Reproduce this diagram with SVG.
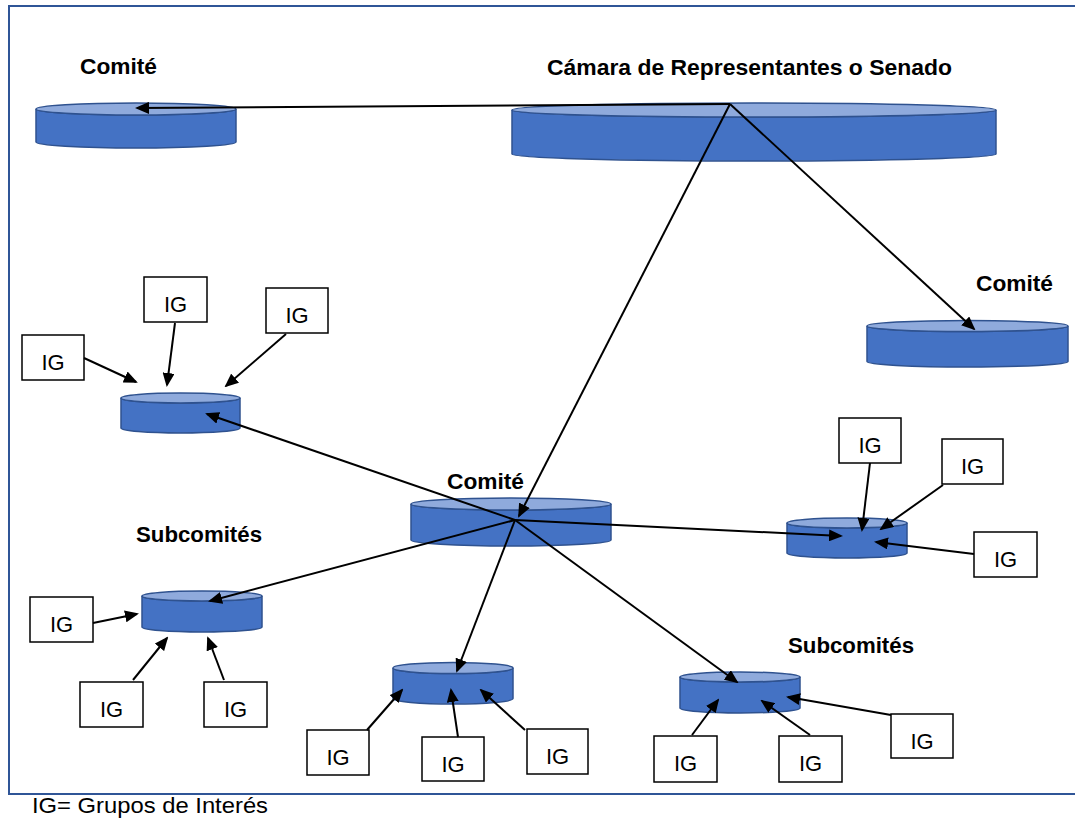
<svg xmlns="http://www.w3.org/2000/svg" width="1075" height="818" viewBox="0 0 1075 818">
<style>
.body{fill:#4472C4;stroke:#2F528F;stroke-width:1.5}
.top{fill:#8FAADC;stroke:#2F528F;stroke-width:1.5}
.ig{fill:#FFFFFF;stroke:#000000;stroke-width:1.5}
.igt{font-family:"Liberation Sans",Arial,sans-serif;font-size:22px;fill:#000;text-anchor:middle}
.lbl{font-family:"Liberation Sans",Arial,sans-serif;font-size:22.5px;font-weight:bold;fill:#000}
.note{font-family:"Liberation Sans",Arial,sans-serif;font-size:22px;fill:#000}
.c line{stroke:#000;stroke-width:2;marker-end:url(#ah)}
</style>
<defs>
<marker id="ah" markerWidth="14" markerHeight="12" refX="12" refY="6" orient="auto" markerUnits="userSpaceOnUse">
<path d="M0,0 L14,6 L0,12 Z" fill="#000"/>
</marker>
</defs>
<rect x="9" y="6" width="1080" height="788" fill="none" stroke="#2F5597" stroke-width="2"/>

<g id="camara">
<path class="body" d="M512,110 V154 A242,7 0 0 0 996,154 V110 A242,7 0 0 1 512,110 Z"/>
<ellipse class="top" cx="754" cy="110" rx="242" ry="7"/>
<text class="lbl" x="547" y="75" textLength="405" lengthAdjust="spacingAndGlyphs">Cámara de Representantes o Senado</text>
</g>
<g id="comite-izq">
<path class="body" d="M36,109 V142 A100,6 0 0 0 236,142 V109 A100,6 0 0 1 36,109 Z"/>
<ellipse class="top" cx="136" cy="109" rx="100" ry="6"/>
<text class="lbl" x="80" y="74" textLength="77" lengthAdjust="spacingAndGlyphs">Comité</text>
</g>
<g id="comite-der">
<path class="body" d="M867,326 V361.5 A100.5,5.5 0 0 0 1068,361.5 V326 A100.5,5.5 0 0 1 867,326 Z"/>
<ellipse class="top" cx="967.5" cy="326" rx="100.5" ry="5.5"/>
<text class="lbl" x="976" y="291" textLength="77" lengthAdjust="spacingAndGlyphs">Comité</text>
</g>
<g id="comite-centro">
<path class="body" d="M411,504 V540 A100,6 0 0 0 611,540 V504 A100,6 0 0 1 411,504 Z"/>
<ellipse class="top" cx="511" cy="504" rx="100" ry="6"/>
<text class="lbl" x="447" y="489" textLength="77" lengthAdjust="spacingAndGlyphs">Comité</text>
</g>
<g id="sub-1">
<path class="body" d="M121,398 V428 A59.5,5 0 0 0 240,428 V398 A59.5,5 0 0 1 121,398 Z"/>
<ellipse class="top" cx="180.5" cy="398" rx="59.5" ry="5"/>
</g>
<g id="sub-2">
<path class="body" d="M787,523 V553 A60,5 0 0 0 907,553 V523 A60,5 0 0 1 787,523 Z"/>
<ellipse class="top" cx="847" cy="523" rx="60" ry="5"/>
</g>
<g id="sub-3">
<path class="body" d="M142,596 V627 A60,5 0 0 0 262,627 V596 A60,5 0 0 1 142,596 Z"/>
<ellipse class="top" cx="202" cy="596" rx="60" ry="5"/>
<text class="lbl" x="136" y="542" textLength="126" lengthAdjust="spacingAndGlyphs">Subcomités</text>
</g>
<g id="sub-4">
<path class="body" d="M393,668 V698.5 A60,5.5 0 0 0 513,698.5 V668 A60,5.5 0 0 1 393,668 Z"/>
<ellipse class="top" cx="453" cy="668" rx="60" ry="5.5"/>
</g>
<g id="sub-5">
<path class="body" d="M680,677 V708 A60,5 0 0 0 800,708 V677 A60,5 0 0 1 680,677 Z"/>
<ellipse class="top" cx="740" cy="677" rx="60" ry="5"/>
<text class="lbl" x="788" y="653" textLength="126" lengthAdjust="spacingAndGlyphs">Subcomités</text>
</g>

<g id="ig-a"><rect class="ig" x="22" y="335" width="62" height="45"/><text class="igt" x="53" y="370">IG</text></g>
<g id="ig-b"><rect class="ig" x="144" y="277" width="63" height="45"/><text class="igt" x="175.5" y="312">IG</text></g>
<g id="ig-c"><rect class="ig" x="266" y="288" width="62" height="45"/><text class="igt" x="297" y="323">IG</text></g>
<g id="ig-d"><rect class="ig" x="839" y="418" width="62" height="45"/><text class="igt" x="870" y="453">IG</text></g>
<g id="ig-e"><rect class="ig" x="942" y="439" width="61" height="45"/><text class="igt" x="972.5" y="474">IG</text></g>
<g id="ig-f"><rect class="ig" x="974" y="532" width="63" height="45"/><text class="igt" x="1005.5" y="567">IG</text></g>
<g id="ig-g"><rect class="ig" x="30" y="597" width="63" height="45"/><text class="igt" x="61.5" y="632">IG</text></g>
<g id="ig-h"><rect class="ig" x="80" y="682" width="63" height="45"/><text class="igt" x="111.5" y="717">IG</text></g>
<g id="ig-i"><rect class="ig" x="204" y="682" width="63" height="45"/><text class="igt" x="235.5" y="717">IG</text></g>
<g id="ig-j"><rect class="ig" x="307" y="730" width="62" height="45"/><text class="igt" x="338" y="765">IG</text></g>
<g id="ig-k"><rect class="ig" x="422" y="737" width="62" height="44"/><text class="igt" x="453" y="772">IG</text></g>
<g id="ig-l"><rect class="ig" x="527" y="729" width="61" height="45"/><text class="igt" x="557.5" y="764">IG</text></g>
<g id="ig-m"><rect class="ig" x="654" y="736" width="63" height="46"/><text class="igt" x="685.5" y="771">IG</text></g>
<g id="ig-n"><rect class="ig" x="779" y="736" width="63" height="46"/><text class="igt" x="810.5" y="771">IG</text></g>
<g id="ig-o"><rect class="ig" x="891" y="714" width="62" height="44"/><text class="igt" x="922" y="749">IG</text></g>

<g id="connectors" class="c">
<line x1="730" y1="104" x2="137" y2="108"/>
<line x1="730" y1="104" x2="974" y2="329"/>
<line x1="730" y1="104" x2="519" y2="516"/>
<line x1="515" y1="520" x2="207" y2="414"/>
<line x1="515" y1="520" x2="841" y2="536"/>
<line x1="515" y1="520" x2="210" y2="601"/>
<line x1="515" y1="520" x2="737" y2="682"/>
<line x1="515" y1="520" x2="457" y2="671"/>
<line x1="84" y1="358" x2="136" y2="382"/>
<line x1="175" y1="323" x2="167" y2="385"/>
<line x1="286" y1="334" x2="226" y2="386"/>
<line x1="870" y1="463" x2="862" y2="530"/>
<line x1="943" y1="485" x2="881" y2="529"/>
<line x1="974" y1="554" x2="876" y2="542"/>
<line x1="93" y1="623" x2="137" y2="614"/>
<line x1="133" y1="680" x2="167" y2="638"/>
<line x1="224" y1="680" x2="208" y2="638"/>
<line x1="367" y1="730" x2="402" y2="690"/>
<line x1="458" y1="737" x2="451" y2="690"/>
<line x1="525" y1="730" x2="481" y2="690"/>
<line x1="692" y1="735" x2="718" y2="700"/>
<line x1="810" y1="735" x2="762" y2="701"/>
<line x1="891" y1="715" x2="788" y2="697"/>
</g>

<text class="note" x="32" y="813" textLength="236" lengthAdjust="spacingAndGlyphs">IG= Grupos de Interés</text>
</svg>
